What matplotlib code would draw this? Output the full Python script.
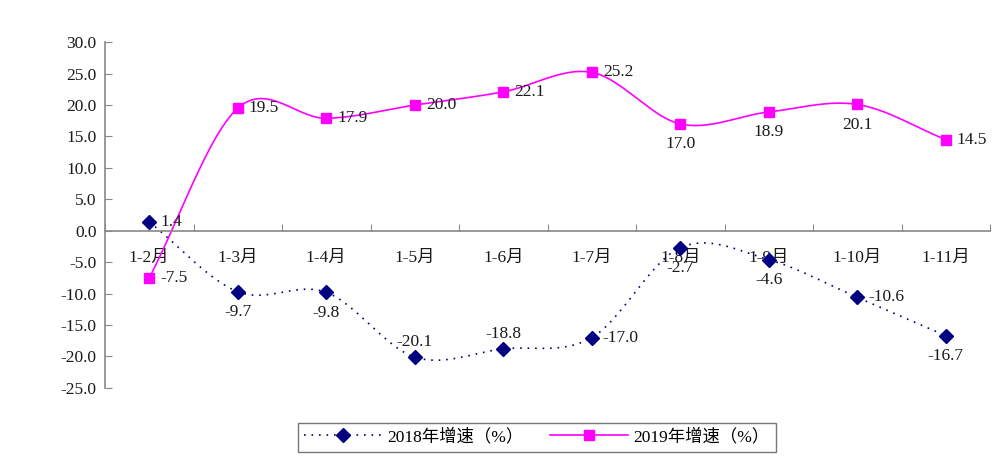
import numpy as np
import matplotlib
matplotlib.use("Agg")
from matplotlib import pyplot as plt

plt.rcParams['font.family'] = ['Liberation Serif', 'Noto Sans CJK SC']

months = ['1-2月', '1-3月', '1-4月', '1-5月', '1-6月', '1-7月', '1-8月', '1-9月', '1-10月', '1-11月']
growth_2018 = [1.4, -9.7, -9.8, -20.1, -18.8, -17.0, -2.7, -4.6, -10.6, -16.7]
growth_2019 = [-7.5, 19.5, 17.9, 20.0, 22.1, 25.2, 17.0, 18.9, 20.1, 14.5]
# where each data label sits relative to its point
pos_2018 = ['r', 'b', 'b', 't', 't', 'r', 'b', 'b', 'r', 'b']
pos_2019 = ['r', 'r', 'r', 'r', 'r', 'r', 'b', 'b', 'b', 'r']


def smooth(x, y, n=30):
    # catmull-rom curve through the points, like excel's smoothed line
    x = np.asarray(x, float)
    y = np.asarray(y, float)
    px = np.concatenate([[2 * x[0] - x[1]], x, [2 * x[-1] - x[-2]]])
    py = np.concatenate([[2 * y[0] - y[1]], y, [2 * y[-1] - y[-2]]])
    t = np.linspace(0, 1, n)
    xs, ys = [], []
    for i in range(1, len(px) - 2):
        for p, out in ((px, xs), (py, ys)):
            p0, p1, p2, p3 = p[i - 1], p[i], p[i + 1], p[i + 2]
            out.extend(0.5 * (2 * p1 + (-p0 + p2) * t
                              + (2 * p0 - 5 * p1 + 4 * p2 - p3) * t ** 2
                              + (-p0 + 3 * p1 - 3 * p2 + p3) * t ** 3))
    return xs, ys


fig = plt.figure(figsize=(10, 4.69), dpi=100)
ax = fig.add_axes([0.105, 0.173, 0.885, 0.737])
x = np.arange(len(months))

c18 = '#000080'
c19 = '#FF00FF'
tc = '#1a1a1a'
fs = 12.5

sx, sy = smooth(x, growth_2018)
ax.plot(sx, sy, color=c18, lw=1.2, ls=(0, (1, 3.5)))
ax.plot(x, growth_2018, ls='none', marker='D', ms=7, color=c18)
sx, sy = smooth(x, growth_2019)
ax.plot(sx, sy, color=c19, lw=1.2)
ax.plot(x, growth_2019, ls='none', marker='s', ms=7, color=c19)

# legend handles
h18, = ax.plot([], [], color=c18, lw=1.2, ls=(0, (1, 3.5)), marker='D', ms=7)
h19, = ax.plot([], [], color=c19, lw=1.2, marker='s', ms=7)

for vals, poss in ((growth_2018, pos_2018), (growth_2019, pos_2019)):
    for i, (v, p) in enumerate(zip(vals, poss)):
        if p == 'r':
            ax.annotate('%.1f' % v, (i, v), xytext=(8, 0), textcoords='offset points',
                        ha='left', va='center', fontsize=fs, color=tc)
        elif p == 'b':
            ax.annotate('%.1f' % v, (i, v), xytext=(0, -9), textcoords='offset points',
                        ha='center', va='top', fontsize=fs, color=tc)
        else:
            ax.annotate('%.1f' % v, (i, v), xytext=(0, 5), textcoords='offset points',
                        ha='center', va='bottom', fontsize=fs, color=tc)

ax.set_xlim(-0.5, len(months) - 0.5)
ax.set_ylim(-25, 30)
ax.set_yticks(np.arange(-25, 31, 5))
ax.set_yticklabels(['%.1f' % v for v in np.arange(-25, 31, 5)])

ax.spines['top'].set_visible(False)
ax.spines['right'].set_visible(False)
ax.spines['bottom'].set_position(('data', 0))
for s in ('left', 'bottom'):
    ax.spines[s].set_color('#888888')
    ax.spines[s].set_linewidth(1.2)

ax.set_xticks(np.arange(len(months) + 1) - 0.5)
ax.set_xticklabels([])
ax.set_xticks(x, minor=True)
ax.set_xticklabels(months, minor=True)
ax.tick_params(axis='x', which='major', direction='in', length=5, color='#888888')
ax.tick_params(axis='x', which='minor', length=0, pad=14, labelsize=fs, labelcolor=tc)
ax.tick_params(axis='y', direction='in', length=5, color='#888888', labelsize=fs,
               labelcolor=tc, pad=6)

leg = fig.legend([h18, h19], ['2018年增速（%）', '2019年增速（%）'], loc='center',
                 bbox_to_anchor=(0.537, 0.068), ncol=2, fontsize=fs, frameon=True,
                 fancybox=False, edgecolor='#555555', handlelength=4.5, columnspacing=1.5,
                 handletextpad=0.3, borderpad=0.35)
leg.get_frame().set_linewidth(1.0)

fig.savefig('out.png', dpi=100)
